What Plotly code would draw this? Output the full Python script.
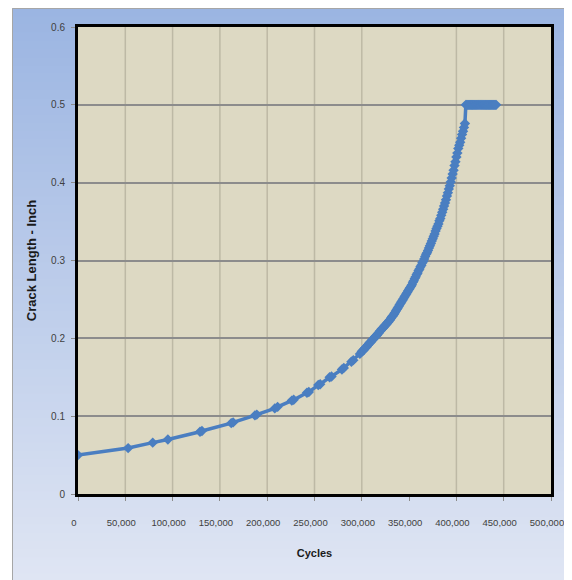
import plotly.graph_objects as go

# ---------------- data ----------------
cycles = [
    0, 53000, 79000, 95000, 129000, 131000, 162000, 164000, 187000, 189000,
    208000, 211000, 226000, 228000, 242000, 244000, 254000, 256000, 266000, 268000,
    279000, 281000, 289000, 291000, 298000,
    300000, 301000, 302000, 303000, 304000, 305000, 306000, 307000, 308000, 309000,
    310000, 311000, 312000, 313000, 314000, 315000, 316000, 317000, 318000, 319000,
    320000, 321000, 322000, 323000, 324000, 325000, 326000, 327000, 328000, 329000,
    330000, 331000, 332000, 333000, 334000, 335000, 336000, 337000, 338000, 339000,
    340000, 341000, 342000, 343000, 344000, 345000, 346000, 347000, 348000, 349000,
    350000, 351000, 352000, 353000, 354000, 355000, 356000, 357000, 358000, 359000,
    360000, 361000, 362000, 363000, 364000, 365000, 366000, 367000, 368000, 369000,
    370000, 371000, 372000, 373000, 374000, 375000, 376000, 377000, 378000, 379000,
    380000, 381000, 382000, 383000, 384000, 385000, 386000, 387000, 388000, 389000,
    390000, 391000, 392000, 393000, 394000, 395000, 396000, 397000, 398000, 399000,
    400000, 401000, 402000, 403000, 404000, 405000, 406000, 407000, 408000, 409000,
    410000, 411000, 412000, 413000, 414000, 415000, 416000, 417000, 418000, 419000,
    420000, 421000, 422000, 423000, 424000, 425000, 426000, 427000, 428000, 429000,
    430000, 431000, 432000, 433000, 434000, 435000, 436000, 437000, 438000, 439000,
    440000, 441000, 442000,
]
crack_length = [
    0.050, 0.059, 0.066, 0.070, 0.080, 0.081, 0.091, 0.092, 0.101, 0.102,
    0.110, 0.112, 0.120, 0.121, 0.130, 0.131, 0.140, 0.141, 0.150, 0.151,
    0.160, 0.162, 0.170, 0.172, 0.180,
    0.183, 0.184, 0.185, 0.187, 0.188, 0.189, 0.191, 0.192, 0.194, 0.195,
    0.196, 0.198, 0.199, 0.200, 0.202, 0.203, 0.204, 0.206, 0.207, 0.209,
    0.210, 0.212, 0.213, 0.214, 0.216, 0.217, 0.218, 0.220, 0.221, 0.223,
    0.224, 0.226, 0.228, 0.229, 0.231, 0.233, 0.235, 0.237, 0.239, 0.241,
    0.243, 0.245, 0.247, 0.249, 0.251, 0.253, 0.255, 0.257, 0.259, 0.261,
    0.263, 0.265, 0.267, 0.269, 0.272, 0.274, 0.277, 0.279, 0.282, 0.284,
    0.287, 0.289, 0.292, 0.294, 0.297, 0.299, 0.302, 0.305, 0.308, 0.310,
    0.313, 0.316, 0.319, 0.322, 0.325, 0.328, 0.331, 0.334, 0.338, 0.341,
    0.344, 0.347, 0.351, 0.354, 0.358, 0.362, 0.366, 0.370, 0.374, 0.378,
    0.383, 0.387, 0.392, 0.396, 0.401, 0.406, 0.411, 0.416, 0.422, 0.427,
    0.433, 0.438, 0.444, 0.448, 0.452, 0.457, 0.462, 0.466, 0.471, 0.476,
    0.500, 0.500, 0.500, 0.500, 0.500, 0.500, 0.500, 0.500, 0.500, 0.500,
    0.500, 0.500, 0.500, 0.500, 0.500, 0.500, 0.500, 0.500, 0.500, 0.500,
    0.500, 0.500, 0.500, 0.500, 0.500, 0.500, 0.500, 0.500, 0.500, 0.500,
    0.500, 0.500, 0.500,
]
x_tick_values = [0, 50000, 100000, 150000, 200000, 250000, 300000, 350000, 400000, 450000, 500000]
x_tick_labels = ["0", "50,000", "100,000", "150,000", "200,000", "250,000", "300,000",
                 "350,000", "400,000", "450,000", "500,000"]
x_grid_values = [50000, 100000, 150000, 200000, 250000, 300000, 400000, 450000]
y_tick_values = [0, 0.1, 0.2, 0.3, 0.4, 0.5, 0.6]
y_tick_labels = ["0", "0.1", "0.2", "0.3", "0.4", "0.5", "0.6"]

# ---------------- layout geometry (page adds an 8px body margin) ----------------
W, H = 564, 572
L, R, T, B = 70, 21, 19, 86
PW, PH = W - L - R, H - T - B


def px_to_paper_x(px):
    return (px - L) / PW


def py_to_paper_y(py):
    return (H - B - py) / PH


shapes = []
# background gradient (blue at top fading to pale at bottom)
top_rgb = (155, 181, 226)
bot_rgb = (223, 229, 243)
n_bands = 70
y_start, y_end = 0, H + 2
for i in range(n_bands):
    t = i / (n_bands - 1)
    c = tuple(round(a + (b - a) * t) for a, b in zip(top_rgb, bot_rgb))
    py0 = y_start + (y_end - y_start) * i / n_bands
    py1 = y_start + (y_end - y_start) * (i + 1) / n_bands + 0.8
    shapes.append(dict(type="rect", xref="paper", yref="paper", layer="below",
                       x0=px_to_paper_x(4), x1=px_to_paper_x(W + 5),
                       y0=py_to_paper_y(py1), y1=py_to_paper_y(py0),
                       fillcolor="rgb(%d,%d,%d)" % c, line=dict(width=0)))
# outer light grey frame (left and top edges)
shapes.append(dict(type="rect", xref="paper", yref="paper", layer="below",
                   x0=px_to_paper_x(4.5), x1=px_to_paper_x(W + 10),
                   y0=py_to_paper_y(H + 10), y1=py_to_paper_y(0.5),
                   fillcolor="rgba(0,0,0,0)", line=dict(color="#A6A6A6", width=1)))
# plot area fill
shapes.append(dict(type="rect", xref="paper", yref="paper", layer="below",
                   x0=0, x1=1, y0=0, y1=1, fillcolor="#DDD9C3", line=dict(width=0)))
# vertical gridlines
for xv in x_grid_values:
    shapes.append(dict(type="line", xref="x", yref="paper", layer="below",
                       x0=xv, x1=xv, y0=0, y1=1,
                       line=dict(color="#BDB9A5", width=1.5)))

fig = go.Figure()
fig.add_trace(go.Scatter(
    x=cycles, y=crack_length, mode="lines+markers",
    line=dict(color="#4A7EC1", width=3.5),
    marker=dict(symbol="diamond", size=8, color="#4A7EC1"),
    showlegend=False, hoverinfo="x+y",
))

x_tick_font = dict(family="Liberation Sans, Arial, sans-serif", size=9.5, color="#404040")
y_tick_font = dict(family="Liberation Sans, Arial, sans-serif", size=10, color="#404040")
x_title_font = dict(family="Liberation Sans, Arial, sans-serif", size=11, color="#1a1a1a")
y_title_font = dict(family="Liberation Sans, Arial, sans-serif", size=13, color="#1a1a1a")

fig.update_layout(
    width=W, height=H,
    margin=dict(l=L, r=R, t=T, b=B, pad=0),
    paper_bgcolor="white",
    plot_bgcolor="rgba(0,0,0,0)",
    shapes=shapes,
    xaxis=dict(
        range=[0, 500000], tickvals=x_tick_values, ticktext=x_tick_labels,
        showgrid=False, zeroline=False,
        showline=True, linecolor="black", linewidth=3, mirror=True,
        ticks="outside", ticklen=4, tickcolor="#8C8C8C", tickwidth=1,
        tickfont=x_tick_font, ticklabelstandoff=14, ticklabelshift=-4,
        title=dict(text="<b>Cycles</b>", font=x_title_font, standoff=22),
        automargin=False, fixedrange=True,
    ),
    yaxis=dict(
        range=[0, 0.6], tickvals=y_tick_values, ticktext=y_tick_labels,
        showgrid=True, gridcolor="#8C8C8C", gridwidth=1.5, zeroline=False,
        showline=True, linecolor="black", linewidth=3, mirror=True,
        ticks="outside", ticklen=4, tickcolor="#8C8C8C", tickwidth=1,
        tickfont=y_tick_font, ticklabelstandoff=4,
        title=dict(text="<b>Crack Length - Inch</b>", font=y_title_font, standoff=12),
        automargin=False, fixedrange=True,
    ),
)

fig.write_html("out.html")
